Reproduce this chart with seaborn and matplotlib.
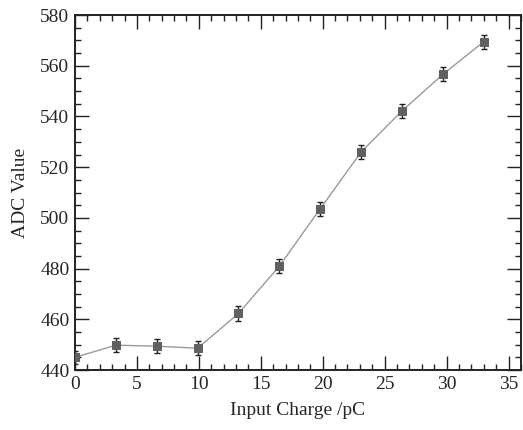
import matplotlib
matplotlib.use("Agg")
import matplotlib.pyplot as plt
import seaborn as sns
import pandas as pd
from matplotlib.ticker import MultipleLocator

# data
charge = [0, 3.3, 6.6, 9.9, 13.2, 16.5, 19.8, 23.1, 26.4, 29.7, 33.0]
adc = [445.0, 449.8, 449.4, 448.6, 462.3, 481.0, 503.6, 526.0, 542.2, 556.6, 569.5]
err = [2.5, 2.8, 2.8, 2.8, 2.8, 2.8, 2.8, 2.8, 2.8, 2.8, 2.8]

df = pd.DataFrame({"charge": charge, "adc": adc, "err": err})

sns.set_style("ticks")
plt.rcParams['font.family'] = ['Liberation Serif', 'DejaVu Serif']

fig = plt.figure(figsize=(5.23, 4.30), dpi=100)
ax = fig.add_axes([0.1434, 0.1395, 0.8526, 0.8255])

sns.lineplot(data=df, x="charge", y="adc", ax=ax, color="#9a9a9a", linewidth=1.0,
             marker="s", markersize=6, markerfacecolor="#606060",
             markeredgecolor="#606060", zorder=3)
ax.errorbar(df["charge"], df["adc"], yerr=df["err"], fmt="none", ecolor="#222222",
            elinewidth=1.0, capsize=2, capthick=1.0, zorder=2)

ax.set_xlim(0, 36)
ax.set_ylim(440, 580)
ax.xaxis.set_major_locator(MultipleLocator(5))
ax.xaxis.set_minor_locator(MultipleLocator(1))
ax.yaxis.set_major_locator(MultipleLocator(20))
ax.yaxis.set_minor_locator(MultipleLocator(5))
ax.tick_params(which="both", direction="in", top=True, right=True, labelsize=14, width=1.0, color="#222222")
ax.tick_params(which="major", length=10, pad=4)
ax.tick_params(which="minor", length=4.5)
for s in ax.spines.values():
    s.set_linewidth(1.4)
    s.set_color("#222222")

ax.set_xlabel("Input Charge /pC", fontsize=14, labelpad=7)
ax.set_ylabel("ADC Value", fontsize=14, labelpad=8)

fig.savefig("out.png", dpi=100)
